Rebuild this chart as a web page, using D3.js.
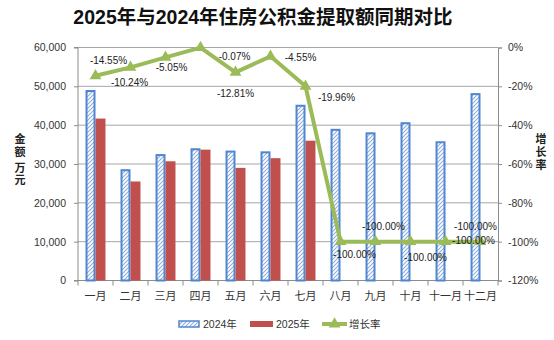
<!DOCTYPE html>
<html><head><meta charset="utf-8">
<script src="https://cdn.jsdelivr.net/npm/d3@7"></script>
<style>body{margin:0;background:#fff}svg{display:block}text{font-family:"Liberation Sans","Noto Sans CJK SC",sans-serif}</style>
</head><body>
<script>
const categories = ["一月","二月","三月","四月","五月","六月","七月","八月","九月","十月","十一月","十二月"];
const values2024 = [48800,28400,32300,33800,33200,33000,45000,38800,37900,40500,35600,48000];
const values2025 = [41700,25500,30700,33700,29000,31500,36000,null,null,null,null,null];
const growth = [-14.55,-10.24,-5.05,-0.07,-12.81,-4.55,-19.96,-100,-100,-100,-100,-100];
const growthLabels = ["-14.55%","-10.24%","-5.05%","-0.07%","-12.81%","-4.55%","-19.96%","-100.00%","-100.00%","-100.00%","-100.00%","-100.00%"];
const leftTicks = [0,10000,20000,30000,40000,50000,60000];
const rightTicks = [0,-20,-40,-60,-80,-100,-120];
const seriesNames = ["2024年","2025年","增长率"];
const title = "2025年与2024年住房公积金提取额同期对比";

// label offsets (dx, dy) relative to point, as in the reference layout
const labelOffsets = [[13,-16],[-1,15],[6,10],[34,8],[0,21],[30,1],[31,11],[14,12],[8,-16],[15,15],[30,-16],[-7,-2]];

const W=554,H=340;
const m={l:78,r:56,t:47.5,b:59.5};
const svg=d3.select("body").append("svg").attr("width",W).attr("height",H);
const defs=svg.append("defs");
const pat=defs.append("pattern").attr("id","hatch").attr("patternUnits","userSpaceOnUse").attr("width",4).attr("height",4);
pat.append("rect").attr("width",4).attr("height",4).attr("fill","#fff");
pat.append("path").attr("d","M-1,1 l2,-2 M0,4 l4,-4 M3,5 l2,-2").attr("stroke","#8eaedc").attr("stroke-width",1.1);

const x=d3.scaleBand().domain(categories).range([m.l,W-m.r]).paddingInner(0.43).paddingOuter(0.215);
const x0=d3.scaleBand().domain(categories).range([m.l,W-m.r]);
const y=d3.scaleLinear().domain([0,60000]).range([H-m.b,m.t]);
const y2=d3.scaleLinear().domain([-120,0]).range([H-m.b,m.t]);

svg.append("text").attr("x",263).attr("y",24).attr("text-anchor","middle").attr("font-size",19.5).attr("font-weight","bold").attr("fill","#111").text(title);

// grid
svg.append("g").selectAll("line").data(leftTicks.slice(1)).join("line")
 .attr("x1",m.l).attr("x2",W-m.r).attr("y1",d=>y(d)).attr("y2",d=>y(d)).attr("stroke","#a6a6a6").attr("stroke-width",1);

// left axis
const ax=svg.append("g").attr("transform",`translate(${m.l},0)`).call(d3.axisLeft(y).tickValues(leftTicks).tickFormat(d3.format(",")).tickSize(4).tickPadding(8));
ax.selectAll("path,line").attr("stroke","#8c8c8c");
ax.selectAll("text").attr("font-size",10.5).attr("fill","#333");
ax.select(".domain").attr("d",`M-4,${y(60000)}H0V${y(0)}H-4`);

// right axis
const ar=svg.append("g").attr("transform",`translate(${W-m.r},0)`).call(d3.axisRight(y2).tickValues(rightTicks).tickFormat(d=>d+"%").tickSize(4).tickPadding(6));
ar.selectAll("path,line").attr("stroke","#8c8c8c");
ar.selectAll("text").attr("font-size",10.5).attr("fill","#333");

// bottom axis
const ab=svg.append("g").attr("transform",`translate(0,${H-m.b})`);
ab.append("line").attr("x1",m.l).attr("x2",W-m.r).attr("stroke","#8c8c8c");
ab.selectAll("line.t").data(categories).join("line").attr("class","t")
 .attr("x1",d=>x0(d)+x0.bandwidth()).attr("x2",d=>x0(d)+x0.bandwidth()).attr("y1",0).attr("y2",5).attr("stroke","#8c8c8c");
ab.append("line").attr("x1",m.l).attr("x2",m.l).attr("y1",0).attr("y2",5).attr("stroke","#8c8c8c");
ab.selectAll("text").data(categories).join("text").attr("x",d=>x0(d)+x0.bandwidth()/2).attr("y",19)
 .attr("text-anchor","middle").attr("font-size",11).attr("fill","#333").text(d=>d);

// bars
const bw=x.bandwidth()/2;
svg.append("g").selectAll("rect").data(categories).join("rect")
 .attr("x",d=>x(d)+1).attr("width",bw-2)
 .attr("y",(d,i)=>y(values2024[i])).attr("height",(d,i)=>y(0)-y(values2024[i]))
 .attr("fill","url(#hatch)").attr("stroke","#4f86cf").attr("stroke-width",2);
svg.append("g").selectAll("rect").data(categories.filter((d,i)=>values2025[i]!=null)).join("rect")
 .attr("x",d=>x(d)+bw).attr("width",bw)
 .attr("y",d=>y(values2025[categories.indexOf(d)])).attr("height",d=>y(0)-y(values2025[categories.indexOf(d)]))
 .attr("fill","#c0504d");

// line
const cx=i=>x0(categories[i])+x0.bandwidth()/2;
const line=d3.line().x((d,i)=>cx(i)).y(d=>y2(d));
svg.append("path").datum(growth).attr("d",line).attr("fill","none").attr("stroke","#9bbb59").attr("stroke-width",4).attr("stroke-linejoin","round");
const tri=d3.symbol().type(d3.symbolTriangle).size(60);
svg.append("g").selectAll("path").data(growth).join("path")
 .attr("transform",(d,i)=>`translate(${cx(i)},${y2(d)})`).attr("d",tri).attr("fill","#9bbb59");

svg.append("g").selectAll("text").data(growthLabels).join("text")
 .attr("x",(d,i)=>cx(i)+labelOffsets[i][0]).attr("y",(d,i)=>y2(growth[i])+labelOffsets[i][1]+4)
 .attr("text-anchor","middle").attr("font-size",10).attr("fill","#222").text(d=>d);

// axis titles
const lt=svg.append("g").attr("font-size",11).attr("font-weight","bold").attr("fill","#222");
[["金",143],["额",156],["万",172],["元",184]].forEach(([c,yy])=>lt.append("text").attr("x",20).attr("y",yy).attr("text-anchor","middle").attr("font-family","Noto Sans CJK SC").text(c));
[["增",143],["长",156],["率",169]].forEach(([c,yy])=>lt.append("text").attr("x",541).attr("y",yy).attr("text-anchor","middle").attr("font-family","Noto Sans CJK SC").text(c));

// legend
const lg=svg.append("g").attr("font-size",10.5).attr("fill","#333");
lg.append("rect").attr("x",179).attr("y",321).attr("width",20).attr("height",6).attr("fill","url(#hatch)").attr("stroke","#4f86cf").attr("stroke-width",1.5);
lg.append("text").attr("x",203).attr("y",328).text(seriesNames[0]);
lg.append("rect").attr("x",250).attr("y",321).attr("width",23).attr("height",6).attr("fill","#c0504d");
lg.append("text").attr("x",276).attr("y",328).text(seriesNames[1]);
lg.append("line").attr("x1",322).attr("x2",347).attr("y1",324).attr("y2",324).attr("stroke","#9bbb59").attr("stroke-width",4);
lg.append("path").attr("transform","translate(334.5,324)").attr("d",tri).attr("fill","#9bbb59");
lg.append("text").attr("x",349).attr("y",328).text(seriesNames[2]);
</script>
</body></html>
